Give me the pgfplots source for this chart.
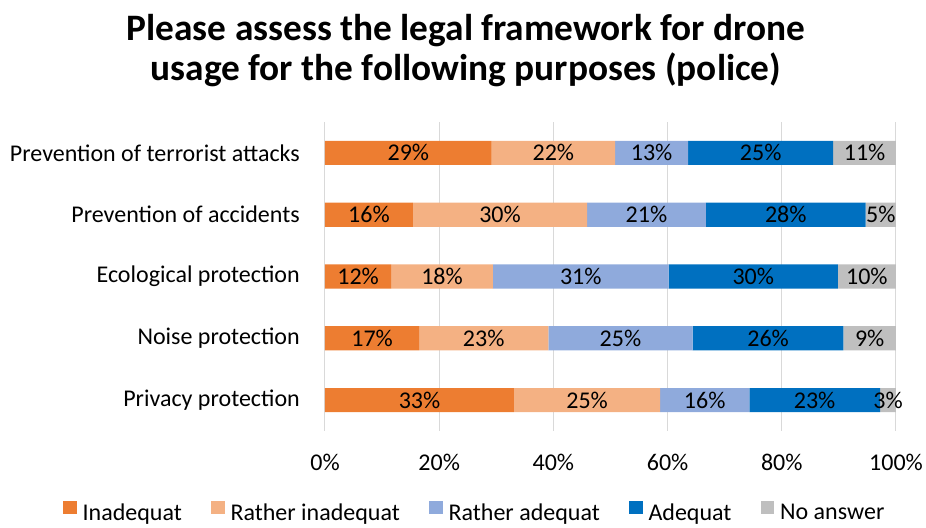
\documentclass[border=0pt]{standalone}
\usepackage{pgfplots}
\pgfplotsset{compat=1.18}
\usepackage{pgfplotstable}
\usepackage{fontspec}
\setmainfont{Carlito}
\definecolor{cA}{HTML}{ED7D31}
\definecolor{cB}{HTML}{F4B183}
\definecolor{cC}{HTML}{8FAADC}
\definecolor{cD}{HTML}{0070C0}
\definecolor{cE}{HTML}{BFBFBF}
\definecolor{gridc}{HTML}{D9D9D9}
\pgfplotstableread{
idx a b c d e la lb lc ld le
0 33.1 25.6 15.6 22.9 2.8 33 25 16 23 3
1 16.5 22.6 25.3 26.4 9.2 17 23 25 26 9
2 11.6 17.8 30.8 29.6 10.2 12 18 31 30 10
3 15.4 30.5 20.8 28.0 5.3 16 30 21 28 5
4 29.2 21.6 12.8 25.4 11.0 29 22 13 25 11
}\datatable
\pgfplotsset{mylegend/.style={legend image code/.code={\fill[##1] (0pt,-1pt) rectangle (10pt,9pt);}}}
\begin{document}
\begin{tikzpicture}
\path[use as bounding box] (0,0) rectangle (694.5pt,396pt);
\begin{axis}[
  at={(243.75pt,72.75pt)}, anchor=south west,
  scale only axis, width=428.25pt, height=231.75pt,
  xbar stacked, bar width=0.39,
  xmin=0, xmax=100, ymin=-0.5, ymax=4.5,
  axis line style={draw=none},
  xtick={0,20,...,100},
  xticklabel={\pgfmathprintnumber{\tick}\%},
  /pgf/number format/assume math mode=true,
  ytick={0,...,4},
  yticklabels={Privacy protection, Noise protection, Ecological protection, Prevention of accidents, Prevention of terrorist attacks},
  major tick length=0pt,
  xmajorgrids, grid style={gridc, line width=0.75pt},
  tick label style={font=\fontsize{18}{21}\selectfont},
  yticklabel style={anchor=east, inner sep=0pt, xshift=-18.75pt},
  xticklabel style={anchor=north, inner sep=0pt, yshift=-17pt},
  point meta=explicit,
  nodes near coords={\pgfmathprintnumber[fixed,precision=0]{\pgfplotspointmeta}\%},
  every node near coord/.append style={anchor=center, inner sep=0pt, text=black, font=\fontsize{18}{21}\selectfont},
  legend columns=5,
  legend style={at={(0.263,-0.265)}, anchor=center, draw=none, fill=none, font=\fontsize{18}{21}\selectfont,
    /tikz/every odd column/.append style={column sep=2.5pt},
    /tikz/every even column/.append style={column sep=20pt}},
]
\addplot[fill=cA, draw=none, mylegend] table[x=a, y=idx, meta=la] {\datatable};
\addplot[fill=cB, draw=none, mylegend] table[x=b, y=idx, meta=lb] {\datatable};
\addplot[fill=cC, draw=none, mylegend] table[x=c, y=idx, meta=lc] {\datatable};
\addplot[fill=cD, draw=none, mylegend] table[x=d, y=idx, meta=ld] {\datatable};
\addplot[fill=cE, draw=none, mylegend] table[x=e, y=idx, meta=le] {\datatable};
\legend{Inadequat, Rather inadequat, Rather adequat, Adequat, No answer}
\end{axis}
\node[align=center, font=\fontsize{28}{30}\selectfont\bfseries] at (349.5pt,357.75pt) {Please assess the legal framework for drone\\usage for the following purposes (police)};
\end{tikzpicture}
\end{document}
